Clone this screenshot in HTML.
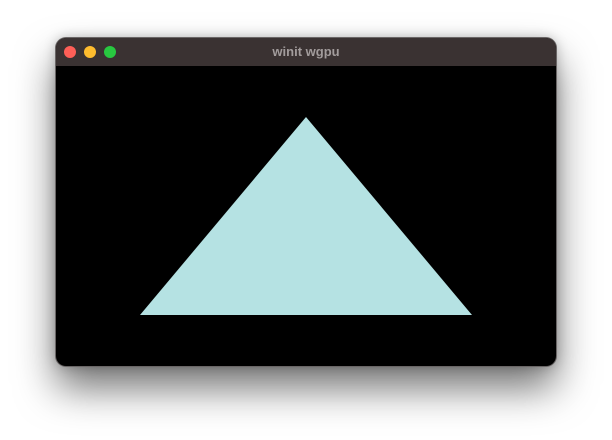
<!DOCTYPE html>
<html><head><meta charset="utf-8"><style>
html,body{margin:0;padding:0;width:612px;height:440px;background:#fff;overflow:hidden;font-family:"Liberation Sans",sans-serif}
#win{position:absolute;left:56px;top:38px;width:500px;height:328px;border-radius:10px;background:#000;box-shadow:0 0 0 1px #6a6666,0 22px 40px rgba(0,0,0,0.55),0 0 12px rgba(0,0,0,0.25);overflow:hidden}
#bar{position:absolute;left:0;top:0;width:500px;height:28px;background:#3a3232}
.dot{position:absolute;top:8px;width:12px;height:12px;border-radius:50%}
#title{position:absolute;left:0;width:500px;top:6px;text-align:center;color:#a29c9c;font-size:13px;font-weight:bold}
svg{position:absolute;left:0;top:28px}
</style></head><body>
<div id="win">
<div id="bar">
<div class="dot" style="left:8px;background:#fe5f57"></div>
<div class="dot" style="left:28px;background:#febc2e"></div>
<div class="dot" style="left:48px;background:#28c840"></div>
<div id="title">winit wgpu</div>
</div>
<svg id="c" width="500" height="300"></svg>
</div>
<script>
const vertexX = [0, -0.664, 0.664];
const vertexY = [0.66, -0.66, -0.66];
const W = 500, H = 300;
function sx(x){return (x+1)/2*W;}
function sy(y){return (1-y)/2*H;}
const svg = document.getElementById('c');
const p = document.createElementNS('http://www.w3.org/2000/svg','polygon');
p.setAttribute('points', vertexX.map((x,i)=>sx(x)+','+sy(vertexY[i])).join(' '));
p.setAttribute('fill','#b5e2e3');


svg.appendChild(p);
</script>
</body></html>
